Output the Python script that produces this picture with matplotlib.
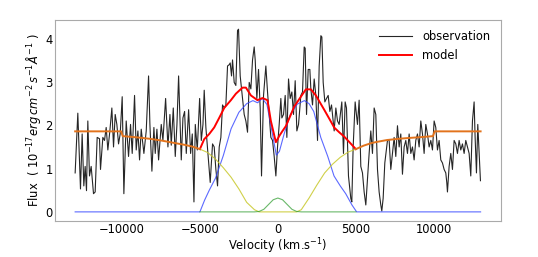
import numpy as np
import matplotlib
matplotlib.use("Agg")
import matplotlib.pyplot as plt

obs_v = [-13000, -12829, -12658, -12551, -12444, -12358, -12272, -12187, -12080, -11973,
         -11823, -11716, -11588, -11438, -11374, -11224, -11117, -11010, -10903, -10774,
         -10646, -10539, -10432, -10325, -10218, -10111, -9983, -9876, -9726, -9576,
         -9448, -9341, -9191, -9084, -8977, -8870, -8763, -8592, -8442, -8292,
         -8206, -8078, -7950, -7864, -7757, -7650, -7479, -7372, -7199, -7051,
         -6922, -6837, -6708, -6580, -6473, -6366, -6195, -6088, -5981, -5874,
         -5724, -5596, -5489, -5382, -5296, -5168, -5018, -4911, -4804,
         -4724, -4617, -4339, -4190, -4083, -3976, -3869, -3762, -3656, -3549,
         -3442, -3335, -3228, -3121, -3057, -2972, -2908, -2801, -2694, -2587,
         -2523, -2416, -2266, -2160, -2053, -1946, -1839, -1732, -1625, -1519,
         -1454, -1348, -1241, -1134, -1049, -920, -771, -664, -557, -450,
         -343, -236, -129, -23, 84, 191, 255, 362, 469, 576,
         683, 789, 896, 1003, 1110, 1217, 1324, 1473, 1580, 1687,
         1751, 1837, 1944, 2050, 2114, 2221, 2328, 2435, 2542, 2649,
         2756, 2820, 2905, 3012, 3119, 3226, 3333, 3440, 3610, 3717, 3824,
         3929, 4100, 4207, 4314, 4399, 4527, 4677, 4741, 4827, 4955,
         5104, 5211, 5318, 5425, 5532, 5639, 5745, 5852, 5959, 6066,
         6173, 6280, 6387, 6493, 6600, 6664, 6750, 6857, 7028, 7135,
         7241, 7348, 7455, 7562, 7669, 7776, 7882, 7989, 8096, 8203,
         8310, 8417, 8524, 8630, 8737, 8844, 8951, 9058, 9165, 9272,
         9378, 9485, 9592, 9699, 9806, 9913, 10020, 10126, 10233, 10340,
         10447, 10554, 10661, 10767, 10831, 10874, 10981, 11088, 11195, 11302,
         11409, 11516, 11622, 11729, 11836, 11943, 12050, 12157, 12264, 12370,
         12477, 12584, 12648, 12734, 12819, 12904, 12990]
obs_flux = [0.90, 2.28, 0.53, 1.80, 0.60, 1.05, 0.49, 2.10, 0.83, 1.05,
            0.42, 0.46, 1.72, 1.69, 0.98, 1.72, 1.65, 1.95, 1.43, 1.87,
            2.40, 1.50, 2.25, 2.02, 1.57, 1.80, 2.66, 0.42, 2.10, 1.28,
            2.02, 1.35, 2.69, 1.43, 1.87, 1.20, 1.91, 1.35, 1.87, 3.14,
            2.02, 0.94, 1.95, 1.35, 1.91, 1.20, 2.02, 1.65, 2.62, 1.50,
            2.25, 1.54, 2.40, 1.28, 2.02, 3.14, 1.20, 2.17, 2.32, 1.35,
            2.36, 1.35, 1.80, 0.23, 2.02, 1.43, 2.62, 1.65, 2.02,
            2.81, 1.95, 0.68, 1.57, 1.50, 0.98, 0.60, 1.50, 1.72, 2.47,
            2.40, 2.47, 3.37, 3.40, 3.44, 3.14, 3.51, 2.99, 2.92, 4.19,
            4.22, 3.14, 2.62, 2.25, 2.10, 1.84, 2.99, 2.84, 3.51, 3.81,
            3.51, 2.62, 3.29, 2.40, 0.83, 2.69, 3.37, 2.77, 2.25, 1.72,
            1.65, 1.28, 0.83, 1.50, 2.02, 2.62, 2.17, 2.25, 2.69, 1.72,
            3.07, 2.62, 2.77, 2.25, 3.03, 1.87, 2.02, 2.69, 2.77, 3.81,
            3.78, 2.25, 3.29, 3.29, 2.84, 2.47, 3.07, 2.69, 1.65, 3.37,
            4.07, 4.04, 2.99, 2.54, 2.62, 2.69, 2.32, 2.47, 1.87, 2.40, 2.10,
            2.02, 2.54, 1.35, 2.54, 2.40, 0.83, 0.31, 0.23, 1.50, 2.54,
            2.02, 2.58, 1.05, 0.90, 0.46, 0.16, 0.75, 1.35, 1.87, 1.35,
            2.40, 2.25, 0.98, 0.46, 0.16, 0.02, 0.31, 1.13, 1.65, 1.65,
            0.98, 1.35, 1.72, 1.28, 1.99, 1.50, 1.80, 0.87, 1.50, 1.65,
            1.35, 1.80, 1.35, 1.50, 1.20, 1.65, 1.80, 1.50, 2.10, 1.80,
            1.35, 2.02, 1.80, 1.50, 1.65, 1.43, 2.10, 1.95, 1.43, 1.65,
            1.20, 1.13, 0.98, 0.90, 0.68, 0.46, 1.05, 1.35, 0.98, 1.65,
            1.57, 1.35, 1.65, 1.43, 1.57, 1.35, 1.65, 1.50, 1.35, 0.83,
            2.10, 2.54, 1.72, 0.90, 2.02, 1.35, 0.72]

# model inside the line window
model_v = [-5000, -4724, -4400, -4083, -3750, -3442, -3013, -2692, -2270, -2050,
           -1730, -1308, -987, -667, -450, -128, 100, 300, 510, 800,
           1045, 1474, 1795, 2115, 2436, 2970, 3300, 3609, 3930, 4250,
           4460, 5000]
model_flux = [1.45, 1.68, 1.80, 1.95, 2.18, 2.40, 2.58, 2.73, 2.87, 2.87,
              2.69, 2.58, 2.63, 2.58, 2.10, 1.61, 1.76, 1.87, 1.98, 2.22,
              2.43, 2.66, 2.83, 2.83, 2.69, 2.36, 2.15, 1.95, 1.84, 1.74,
              1.66, 1.45]

# model outside the line window (continuum only)
left_v = [-13000, -10050, -9950, -9000, -8250, -7500, -6760, -6000, -5500, -5000]
left_flux = [1.86, 1.86, 1.75, 1.72, 1.69, 1.65, 1.60, 1.55, 1.51, 1.45]
right_v = [5000, 5500, 6000, 6400, 7000, 7800, 8500, 9300, 9950, 10050, 13000]
right_flux = [1.45, 1.53, 1.59, 1.62, 1.66, 1.69, 1.71, 1.73, 1.75, 1.86, 1.86]

# continuum component under the line
cont_v = [-5000, -4500, -4000, -3500, -3000, -2500, -2000, -1500, -1200, 0,
          1200, 1500, 2000, 2500, 3000, 3500, 4000, 4500, 5000]
cont_flux = [1.45, 1.37, 1.22, 1.02, 0.80, 0.53, 0.22, 0.05, 0.0, 0.0,
             0.0, 0.05, 0.32, 0.62, 0.90, 1.10, 1.26, 1.38, 1.45]

# broad component
broad_v = [-13000, -5000, -4700, -4400, -4000, -3500, -3000, -2500, -2000, -1600,
           -1300, -1000, -700, -350, -100, 100, 400, 800, 1250, 1700,
           2000, 2300, 2750, 3200, 3600, 4000, 4350, 4750, 5050, 13000]
broad_flux = [0, 0, 0.27, 0.50, 0.78, 1.30, 1.92, 2.30, 2.50, 2.57,
              2.52, 2.62, 2.48, 1.80, 1.31, 1.40, 1.80, 2.25, 2.49, 2.57,
              2.50, 2.32, 1.72, 1.28, 0.83, 0.60, 0.42, 0.16, 0.0, 0]

# narrow component
narrow_v = [-5000, -1500, -1200, -900, -600, -300, 0, 300, 600, 900, 1200, 1500, 5000]
narrow_flux = [0, 0, 0.01, 0.06, 0.17, 0.28, 0.32, 0.28, 0.17, 0.06, 0.01, 0, 0]

plt.rcParams['font.size'] = 8.3

fig = plt.figure(figsize=(5.38, 2.57), dpi=100)
ax = fig.add_axes([0.102, 0.14, 0.829, 0.782])

ax.plot(obs_v, obs_flux, color='k', lw=0.8, alpha=0.85, label='observation')
ax.plot(broad_v, broad_flux, color='#3344ff', lw=0.8, alpha=0.8)
ax.plot(cont_v, cont_flux, color='#c8c82a', lw=0.8, alpha=0.85)
ax.plot(narrow_v, narrow_flux, color='#2a9a2a', lw=0.8, alpha=0.7)
ax.plot(model_v, model_flux, color='red', lw=1.4, label='model')
ax.plot(left_v, left_flux, color='#e2731c', lw=1.4)
ax.plot(right_v, right_flux, color='#e2731c', lw=1.4)

ax.set_xlabel('Velocity (km.s$^{-1}$)', labelpad=0)
ax.set_ylabel(r'Flux  ( $10^{-17} erg\,cm^{-2}\,s^{-1}\AA^{-1}$ )', labelpad=2)
ax.set_yticks([0, 1, 2, 3, 4])
ax.set_xticks([-10000, -5000, 0, 5000, 10000])
ax.tick_params(length=0, pad=1.5)
for s in ax.spines.values():
    s.set_color('#aaaaaa')

leg = ax.legend(loc='upper right', frameon=False, handlelength=2.9, handletextpad=0.9)

fig.savefig('out.png', dpi=100)
